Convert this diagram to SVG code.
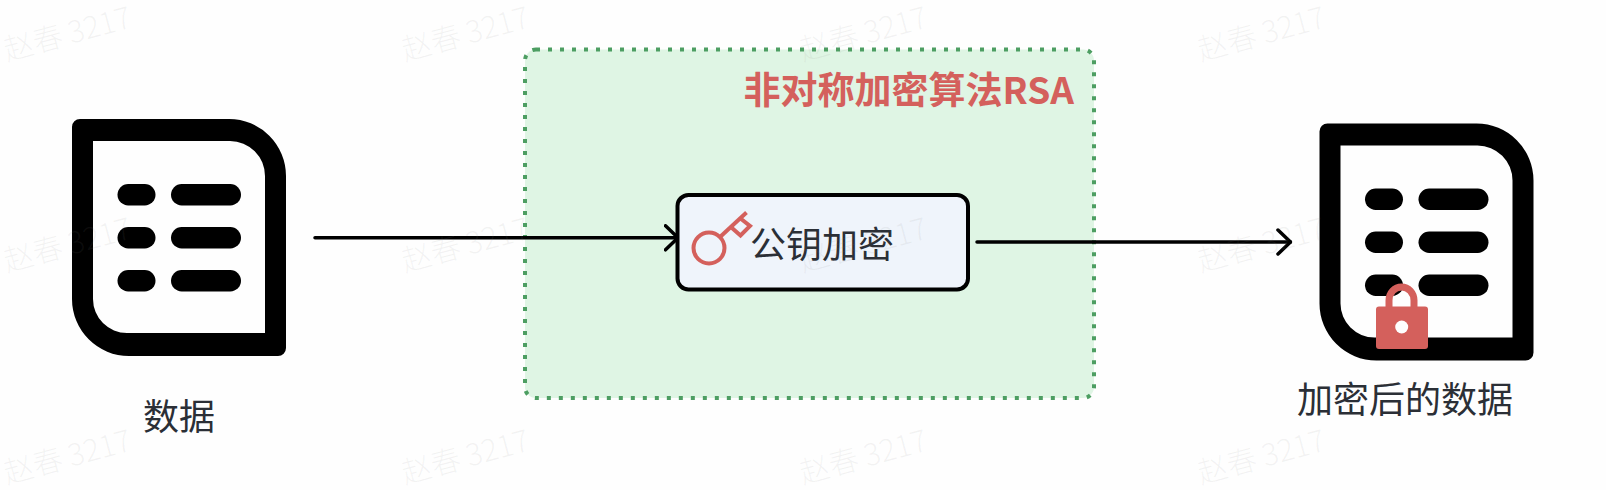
<svg xmlns="http://www.w3.org/2000/svg" width="1606" height="490" viewBox="0 0 1606 490">
  <style>
    .label { font-family: "Noto Sans CJK SC", "Noto Sans", sans-serif; font-size: 36px; fill: #2b2f36; }
    .title { font-family: "Noto Sans CJK SC", "Noto Sans", sans-serif; font-size: 37px; font-weight: 700; fill: #d4605c; }
    .wm { font-family: "Noto Sans CJK SC", "Noto Sans", sans-serif; font-size: 30px; font-weight: 300; fill: #808080; fill-opacity: .09; }
    .line { fill: none; stroke: #000; stroke-width: 3.500; stroke-linecap: round; stroke-linejoin: round; }
  </style>
  <defs>
    <marker id="arrow" viewBox="0 0 16 28" refX="14.500" refY="14" markerWidth="16" markerHeight="28" markerUnits="userSpaceOnUse" orient="auto">
      <path d="M2 2 L14.500 14 L2 26" fill="none" stroke="#000" stroke-width="3.500" stroke-linecap="round" stroke-linejoin="round"/>
    </marker>
    <g id="doc">
      <path fill-rule="evenodd" d="M8 0H157A57 57 0 0 1 214 57V229A8 8 0 0 1 206 237H57A57 57 0 0 1 0 180V8A8 8 0 0 1 8 0ZM21 22V180A34 34 0 0 0 55 214H193V57A35 35 0 0 0 158 22Z"/>
      <rect x="45.500" y="65" width="38" height="21.500" rx="10.700"/>
      <rect x="99" y="65" width="70" height="21.500" rx="10.700"/>
      <rect x="45.500" y="108" width="38" height="21.500" rx="10.700"/>
      <rect x="99" y="108" width="70" height="21.500" rx="10.700"/>
      <rect x="45.500" y="151" width="38" height="21.500" rx="10.700"/>
      <rect x="99" y="151" width="70" height="21.500" rx="10.700"/>
    </g>
  </defs>
  <rect width="1606" height="490" fill="#fefefe"/>

  <g id="group-rsa">
    <rect x="525" y="49.500" width="569" height="348.500" rx="11" fill="#dff5e4" stroke="#4d9e62" stroke-width="4" stroke-dasharray="4 8"/>
    <text class="title" x="1074" y="104" text-anchor="end">非对称加密算法RSA</text>
  </g>

  <g id="connectors">
    <path class="line" d="M315 237.800H678" marker-end="url(#arrow)"/>
    <path class="line" d="M977 242H1290.500" marker-end="url(#arrow)"/>
  </g>

  <g id="node-data">
    <use href="#doc" x="72" y="119"/>
    <text class="label" x="179" y="429.500" text-anchor="middle">数据</text>
  </g>

  <g id="node-encrypt">
    <rect x="677.500" y="195" width="290.500" height="94.500" rx="11" fill="#eff4fb" stroke="#000" stroke-width="4"/>
    <g fill="none" stroke="#d4605c" stroke-width="4">
      <circle cx="709" cy="248" r="15.500"/>
      <path d="M720 237L746.500 212.500"/>
      <path d="M740.500 218.500L750 226L740.500 235.500L732 228"/>
    </g>
    <text class="label" x="750" y="257.500">公钥加密</text>
  </g>

  <g id="node-encrypted-data">
    <use href="#doc" x="1319.500" y="123.500"/>
    <path d="M1389 307V300.500A12.500 13.500 0 0 1 1414 300.500V307" fill="none" stroke="#d4605c" stroke-width="7"/>
    <rect x="1376" y="306.500" width="52" height="42.500" rx="3" fill="#d4605c"/>
    <circle cx="1401.700" cy="327" r="6.500" fill="#fefefe"/>
    <text class="label" x="1405" y="412.500" text-anchor="middle">加密后的数据</text>
  </g>

  <g id="watermarks">
    <text class="wm" transform="translate(7 61) rotate(-15)">赵春 3217</text>
    <text class="wm" transform="translate(405 61) rotate(-15)">赵春 3217</text>
    <text class="wm" transform="translate(803 61) rotate(-15)">赵春 3217</text>
    <text class="wm" transform="translate(1201 61) rotate(-15)">赵春 3217</text>
    <text class="wm" transform="translate(7 272) rotate(-15)">赵春 3217</text>
    <text class="wm" transform="translate(405 272) rotate(-15)">赵春 3217</text>
    <text class="wm" transform="translate(803 272) rotate(-15)">赵春 3217</text>
    <text class="wm" transform="translate(1201 272) rotate(-15)">赵春 3217</text>
    <text class="wm" transform="translate(7 484) rotate(-15)">赵春 3217</text>
    <text class="wm" transform="translate(405 484) rotate(-15)">赵春 3217</text>
    <text class="wm" transform="translate(803 484) rotate(-15)">赵春 3217</text>
    <text class="wm" transform="translate(1201 484) rotate(-15)">赵春 3217</text>
  </g>
</svg>
